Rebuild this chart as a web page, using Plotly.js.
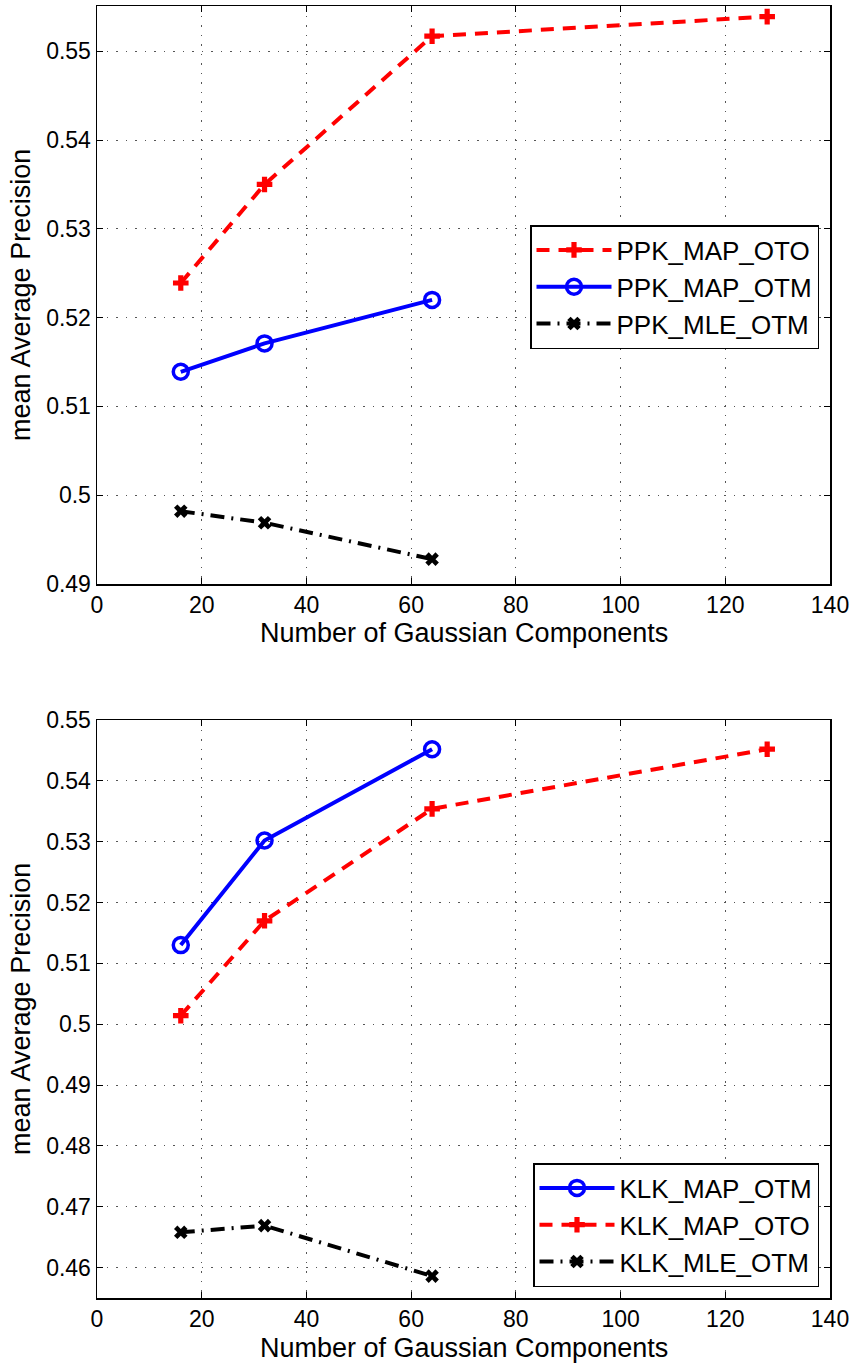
<!DOCTYPE html>
<html>
<head>
<meta charset="utf-8">
<script src="https://cdn.plot.ly/plotly-3.0.1.min.js"></script>
<style>
html,body{margin:0;padding:0;background:#fff;}
#chart{width:851px;height:1364px;}
</style>
</head>
<body>
<div id="chart"></div>
<script>
// ---- data ----
var components = [16, 32, 64, 128];
var componentsShort = [16, 32, 64];

var ppkMapOto = [0.5239, 0.5350, 0.5517, 0.5539];
var ppkMapOtm = [0.5139, 0.5171, 0.5220];
var ppkMleOtm = [0.4982, 0.4969, 0.4928];

var klkMapOtm = [0.5130, 0.5302, 0.5452];
var klkMapOto = [0.5014, 0.5170, 0.5354, 0.5452];
var klkMleOtm = [0.4658, 0.4669, 0.4586];

var xTicks = [0, 20, 40, 60, 80, 100, 120, 140];
var yTicksTop = [0.49, 0.50, 0.51, 0.52, 0.53, 0.54, 0.55];
var yTickTextTop = ['0.49', '0.5', '0.51', '0.52', '0.53', '0.54', '0.55'];
var yTicksBottom = [0.46, 0.47, 0.48, 0.49, 0.50, 0.51, 0.52, 0.53, 0.54, 0.55];
var yTickTextBottom = ['0.46', '0.47', '0.48', '0.49', '0.5', '0.51', '0.52', '0.53', '0.54', '0.55'];

var xTitle = 'Number of Gaussian Components';
var yTitle = 'mean Average Precision';

// ---- styling ----
var W = 851, H = 1364;
var FONT = '"Liberation Sans", Arial, Helvetica, sans-serif';
function px2x(p){ return p / W; }
function px2y(p){ return 1 - p / H; }

var redStyle = {color: '#ff0000', width: 4, dash: '13px,9px'};
var blueStyle = {color: '#0000ff', width: 4, dash: 'solid'};
var blackStyle = {color: '#000000', width: 4, dash: '14px,7px,2px,7px'};
var redMarker = {symbol: 'cross', size: 13, color: '#ff0000'};
var blueMarker = {symbol: 'circle-open', size: 15, color: '#0000ff', line: {width: 3.5, color: '#0000ff'}};
var blackMarker = {symbol: 'x', size: 12, color: '#000000'};

var traces = [
  {x: components, y: ppkMapOto, name: 'PPK_MAP_OTO', mode: 'lines+markers', line: redStyle, marker: redMarker, xaxis: 'x', yaxis: 'y', legend: 'legend'},
  {x: componentsShort, y: ppkMapOtm, name: 'PPK_MAP_OTM', mode: 'lines+markers', line: blueStyle, marker: blueMarker, xaxis: 'x', yaxis: 'y', legend: 'legend'},
  {x: componentsShort, y: ppkMleOtm, name: 'PPK_MLE_OTM', mode: 'lines+markers', line: blackStyle, marker: blackMarker, xaxis: 'x', yaxis: 'y', legend: 'legend'},
  {x: componentsShort, y: klkMapOtm, name: 'KLK_MAP_OTM', mode: 'lines+markers', line: blueStyle, marker: blueMarker, xaxis: 'x2', yaxis: 'y2', legend: 'legend2'},
  {x: components, y: klkMapOto, name: 'KLK_MAP_OTO', mode: 'lines+markers', line: redStyle, marker: redMarker, xaxis: 'x2', yaxis: 'y2', legend: 'legend2'},
  {x: componentsShort, y: klkMleOtm, name: 'KLK_MLE_OTM', mode: 'lines+markers', line: blackStyle, marker: blackMarker, xaxis: 'x2', yaxis: 'y2', legend: 'legend2'}
];

var xDomain = [px2x(97), px2x(830)];
var gridStyle = {showgrid: true, gridcolor: '#555', griddash: '1.5px,8px', gridwidth: 1};
function xAxis(anchor){
  return Object.assign({
    domain: xDomain, anchor: anchor, range: [0, 140],
    tickvals: xTicks, ticktext: xTicks.map(String),
    ticks: 'inside', ticklen: 6, tickwidth: 1, tickcolor: '#000',
    showline: true, linecolor: '#000', linewidth: 1.5, mirror: 'ticks',
    zeroline: false, tickfont: {size: 23, color: '#000', family: FONT}
  }, gridStyle);
}
function yAxis(anchor, dom, rng, vals, txt){
  return Object.assign({
    domain: dom, anchor: anchor, range: rng,
    tickvals: vals, ticktext: txt,
    ticks: 'inside', ticklen: 6, tickwidth: 1, tickcolor: '#000',
    showline: true, linecolor: '#000', linewidth: 1.5, mirror: 'ticks',
    zeroline: false, tickfont: {size: 23, color: '#000', family: FONT}
  }, gridStyle);
}

var legendBase = {
  xanchor: 'right', yanchor: 'bottom', bgcolor: '#ffffff',
  bordercolor: '#000', borderwidth: 1.5,
  font: {size: 26, color: '#000', family: FONT},
  tracegroupgap: 0, itemwidth: 75
};

var layout = {
  width: W, height: H,
  margin: {l: 0, r: 0, t: 0, b: 0},
  paper_bgcolor: '#fff', plot_bgcolor: '#fff',
  font: {family: FONT, color: '#000'},
  showlegend: true,
  xaxis: xAxis('y'),
  yaxis: yAxis('x', [px2y(584), px2y(6)], [0.49, 0.5551], yTicksTop, yTickTextTop),
  xaxis2: xAxis('y2'),
  yaxis2: yAxis('x2', [px2y(1298), px2y(720)], [0.455, 0.55], yTicksBottom, yTickTextBottom),
  legend: Object.assign({}, legendBase, {x: px2x(819), y: px2y(349)}),
  legend2: Object.assign({}, legendBase, {x: px2x(819), y: px2y(1287)}),
  annotations: [
    {text: xTitle, xref: 'paper', yref: 'paper', x: px2x(463.5), y: px2y(633), xanchor: 'center', yanchor: 'middle', showarrow: false, font: {size: 27, family: FONT, color: '#000'}},
    {text: xTitle, xref: 'paper', yref: 'paper', x: px2x(463.5), y: px2y(1348), xanchor: 'center', yanchor: 'middle', showarrow: false, font: {size: 27, family: FONT, color: '#000'}},
    {text: yTitle, xref: 'paper', yref: 'paper', x: px2x(21), y: px2y(295), xanchor: 'center', yanchor: 'middle', textangle: -90, showarrow: false, font: {size: 27, family: FONT, color: '#000'}},
    {text: yTitle, xref: 'paper', yref: 'paper', x: px2x(21), y: px2y(1009), xanchor: 'center', yanchor: 'middle', textangle: -90, showarrow: false, font: {size: 27, family: FONT, color: '#000'}}
  ]
};

Plotly.newPlot('chart', traces, layout, {displayModeBar: false, staticPlot: true});
</script>
</body>
</html>
